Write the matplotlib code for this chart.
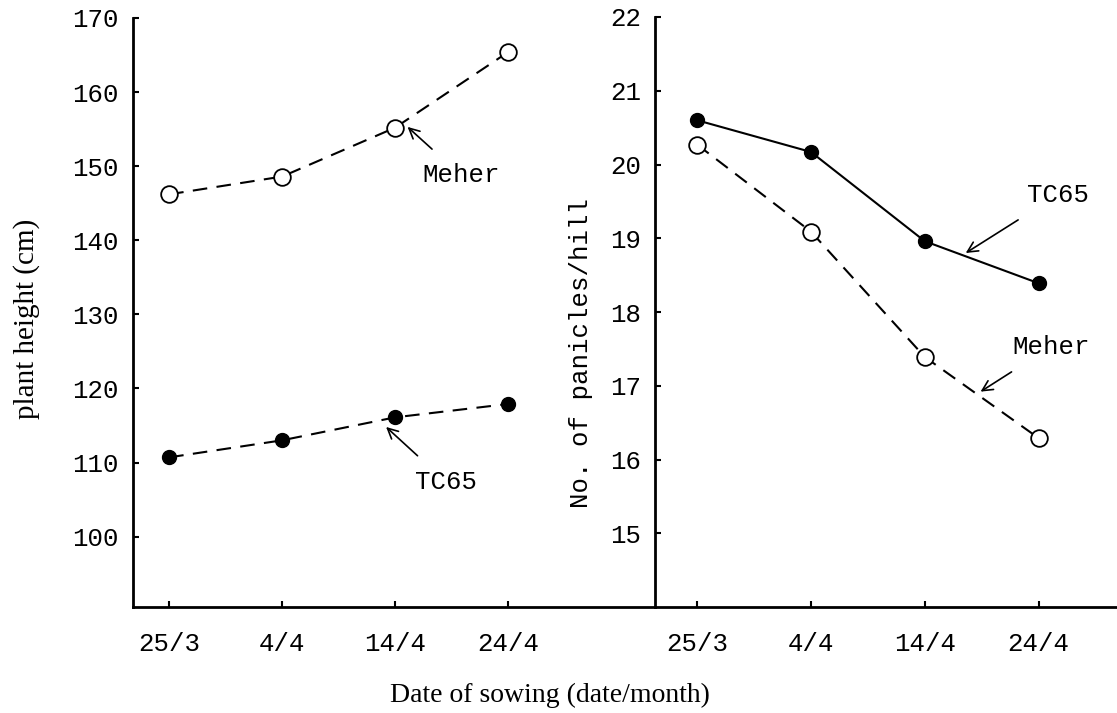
import matplotlib
matplotlib.use('Agg')
import matplotlib.pyplot as plt

# sowing dates and the two varieties
dates = ['25/3', '4/4', '14/4', '24/4']
x = [0, 1, 2, 3]

height_meher = [146.2, 148.6, 155.2, 165.4]
height_tc65 = [110.7, 113.0, 116.1, 117.9]

panicles_tc65 = [20.6, 20.17, 18.96, 18.39]
panicles_meher = [20.27, 19.09, 17.39, 16.29]

height_ticks = [100, 110, 120, 130, 140, 150, 160, 170]
panicle_ticks = [15, 16, 17, 18, 19, 20, 21, 22]

mono = 'Liberation Mono'
serif = 'Liberation Serif'

fig = plt.figure(figsize=(11.17, 7.13), dpi=100)
ax1 = fig.add_axes([133/1117, 1 - 607/713, 522/1117, 589/713])
ax2 = fig.add_axes([655/1117, 1 - 607/713, 461/1117, 590/713])

dash = (0, (7, 4.5))

# left panel: plant height
ax1.plot(x, height_meher, color='black', lw=1.5, linestyle=dash,
         marker='o', ms=12, mfc='white', mec='black', mew=1.3)
ax1.plot(x, height_tc65, color='black', lw=1.5, linestyle=dash,
         marker='o', ms=10, mfc='black', mec='black')
ax1.set_xlim(-0.32, 4.30)
ax1.set_ylim(90.5, 170)
ax1.set_yticks(height_ticks)
ax1.set_ylabel('plant height (cm)', fontsize=21, family=serif)
ax1.yaxis.set_label_coords(-0.178, 0.49)

ax1.annotate('Meher', xy=(2.11, 155.3), xytext=(2.58, 148.8),
             ha='center', va='center', fontsize=18.5, family=mono,
             arrowprops=dict(arrowstyle='->', color='black', lw=1.2,
                             shrinkA=12, shrinkB=0))
ax1.annotate('TC65', xy=(1.92, 114.8), xytext=(2.45, 107.4),
             ha='center', va='center', fontsize=18.5, family=mono,
             arrowprops=dict(arrowstyle='->', color='black', lw=1.2,
                             shrinkA=12, shrinkB=0))

# right panel: panicles per hill
ax2.plot(x, panicles_tc65, color='black', lw=1.5, linestyle='-',
         marker='o', ms=10, mfc='black', mec='black')
ax2.plot(x, panicles_meher, color='black', lw=1.5, linestyle=dash,
         marker='o', ms=12, mfc='white', mec='black', mew=1.3)
ax2.set_xlim(-0.37, 3.68)
ax2.set_ylim(14, 22)
ax2.set_yticks(panicle_ticks)
ax2.set_ylabel('No. of panicles/hill', fontsize=18.5, family=mono)
ax2.yaxis.set_label_coords(-0.135, 0.43)

ax2.annotate('TC65', xy=(2.36, 18.80), xytext=(3.17, 19.59),
             ha='center', va='center', fontsize=18.5, family=mono,
             arrowprops=dict(arrowstyle='->', color='black', lw=1.2,
                             shrinkA=14, shrinkB=0))
ax2.annotate('Meher', xy=(2.49, 16.92), xytext=(3.11, 17.53),
             ha='center', va='center', fontsize=18.5, family=mono,
             arrowprops=dict(arrowstyle='->', color='black', lw=1.2,
                             shrinkA=14, shrinkB=0))

for ax in (ax1, ax2):
    ax.set_xticks(x)
    ax.set_xticklabels(dates)
    for s in ('top', 'right'):
        ax.spines[s].set_visible(False)
    for s in ('left', 'bottom'):
        ax.spines[s].set_linewidth(2)
    ax.tick_params(direction='in', length=4, width=1.5, labelsize=18.5,
                   pad=10)
    ax.tick_params(axis='x', pad=18)
    for lbl in ax.get_xticklabels() + ax.get_yticklabels():
        lbl.set_family(mono)
    ax.patch.set_alpha(0)

fig.text(550/1117, 1 - 695/713, 'Date of sowing (date/month)',
         ha='center', va='center', fontsize=20, family=serif)

fig.savefig('out.png', dpi=100)
